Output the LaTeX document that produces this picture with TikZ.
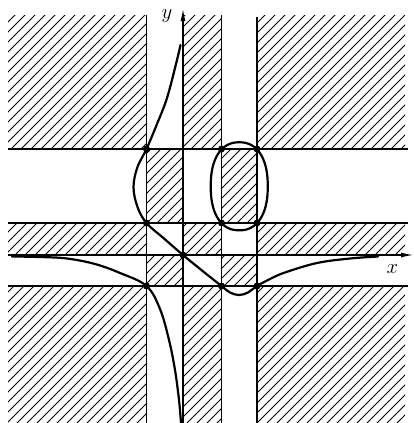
\documentclass[tikz,border=0pt]{standalone}
\usetikzlibrary{arrows.meta}
\begin{document}
\begin{tikzpicture}[x=1pt,y=-1pt,
  grid/.style={line width=1.1pt},
  hatch/.style={line width=0.85pt},
  curve/.style={line width=2.2pt, line join=round, line cap=round},
  dot/.style={circle, fill, inner sep=0pt, minimum size=7pt},
  axis/.style={line width=1.1pt, -{Latex[length=12pt,width=5pt]}},
  lab/.style={font=\fontsize{20}{20}\selectfont, inner sep=0pt}]
\useasboundingbox (0,0) rectangle (413,423);
% hatched cells (checkerboard of sign regions)
\begin{scope}
\clip (8,15) rectangle (146.5,149) (183,15) rectangle (221.5,149) (257,15) rectangle (405,149)
  (146.5,149) rectangle (183,223) (221.5,149) rectangle (257,223)
  (8,223) rectangle (146.5,255) (183,223) rectangle (221.5,255) (257,223) rectangle (405,255)
  (146.5,255) rectangle (183,286) (221.5,255) rectangle (257,286)
  (8,286) rectangle (146.5,423) (183,286) rectangle (221.5,423) (257,286) rectangle (405,423);
\foreach \c in {0,10,...,860} \draw[hatch] (\c,0) -- (\c-430,430);
\end{scope}
% grid lines
\draw[grid] (146.5,15) -- (146.5,423);
\draw[grid] (221.5,15) -- (221.5,423);
\draw[grid] (257,17) -- (257,423);
\draw[grid] (8,149) -- (408,149);
\draw[grid] (8,223) -- (408,223);
\draw[grid] (8,286) -- (408,286);
% axes
\coordinate (ybot) at (183,423);
\coordinate (ytop) at (183,9);
\coordinate (xleft) at (8,255);
\coordinate (xright) at (413,255);
\draw[axis] (ybot) -- (ytop);
\draw[axis] (xleft) -- (xright);
\node[lab] (ylab) at (167,16) {$y$};
\node[lab] (xlab) at (392.5,269) {$x$};
% main curve
\draw[curve] plot[smooth, tension=0.6] coordinates {(180.5,45) (176,64) (167,98) (157,124) (146.5,149) (137.5,167) (133.5,187) (137.5,207) (146.5,223) (164,238.5) (183,255) (202,270.5) (221.5,286) (230,292.5) (239,295) (248,292.5) (257,286) (270,279) (285,272.5) (317,263) (350,258.5) (378,256.5)};
% lower-left branch
\draw[curve] plot[smooth, tension=0.6] coordinates {(12,256.5) (40,257) (67,258.5) (95,264) (120,273) (146.5,286) (160,309) (169,340) (175,370) (179,400) (181,423)};
% oval through the four corner points
\draw[curve] plot[domain=1:358.5, samples=144, smooth cycle, variable=\t]
  ({239.25+28.5*sign(cos(\t))*pow(abs(cos(\t)),0.87)}, {186.3+44*sign(sin(\t))*pow(abs(sin(\t)),0.87)});
% points
\node[dot] (d1) at (146.5,149) {};
\node[dot] (d2) at (146.5,223) {};
\node[dot] (d3) at (183,255) {};
\node[dot] (d4) at (146.5,286) {};
\node[dot] (d5) at (221.5,286) {};
\node[dot] (d6) at (257,286) {};
\node[dot] (d7) at (221.5,149) {};
\node[dot] (d8) at (257,149) {};
\node[dot] (d9) at (221.5,223) {};
\node[dot] (d10) at (257,223) {};
\end{tikzpicture}
\end{document}
